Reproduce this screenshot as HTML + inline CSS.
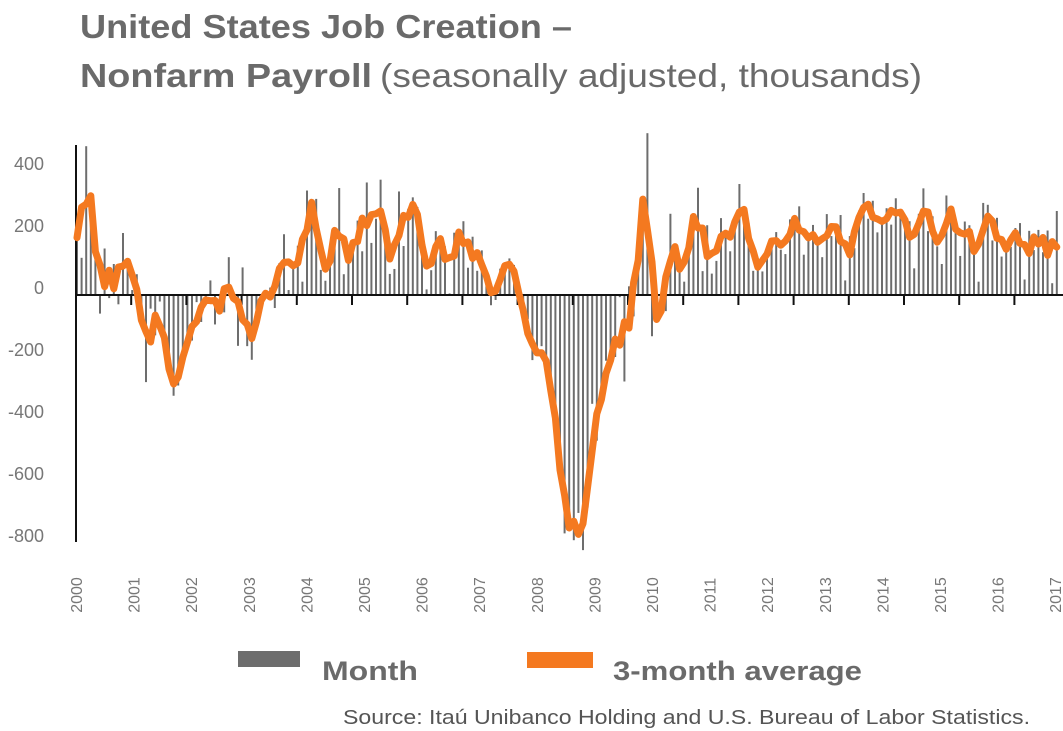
<!DOCTYPE html>
<html><head><meta charset="utf-8"><style>
html,body{margin:0;padding:0;background:#fff}
svg{display:block;font-family:"Liberation Sans",sans-serif}
</style></head><body>
<svg id="chart" width="1063" height="731" viewBox="0 0 1063 731" xmlns="http://www.w3.org/2000/svg">
<text x="80" y="38" font-size="33" font-weight="bold" fill="#6a6a6a" textLength="492" lengthAdjust="spacingAndGlyphs">United States Job Creation –</text>
<text x="80" y="87" font-size="33" fill="#6a6a6a"><tspan font-weight="bold" textLength="292" lengthAdjust="spacingAndGlyphs">Nonfarm Payroll</tspan><tspan x="380" textLength="542" lengthAdjust="spacingAndGlyphs">(seasonally adjusted, thousands)</tspan></text>
<g id="yaxis"></g>
<g id="bars"></g>
<g id="axes"></g>
<g id="line"></g>
<g id="xaxis"></g>
<g>
<rect x="238" y="651" width="62" height="16" fill="#6d6d6d"/>
<text x="322" y="680" font-size="27" font-weight="bold" fill="#6a6a6a" textLength="96" lengthAdjust="spacingAndGlyphs">Month</text>
<rect x="527" y="652" width="66" height="16" fill="#f47920"/>
<text x="613" y="680" font-size="27" font-weight="bold" fill="#6a6a6a" textLength="249" lengthAdjust="spacingAndGlyphs">3-month average</text>
</g>
<text x="343" y="724" font-size="20" fill="#555" textLength="687" lengthAdjust="spacingAndGlyphs">Source: Itaú Unibanco Holding and U.S. Bureau of Labor Statistics.</text>
</svg>
<script>
const years = [2000,2001,2002,2003,2004,2005,2006,2007,2008,2009,2010,2011,2012,2013,2014,2015,2016,2017];
const yTicks = [400,200,0,-200,-400,-600,-800];
const monthly = [
250,120,480,280,200,-60,150,-10,100,-30,200,110,
16,67,-30,-281,-44,-130,-21,-148,-244,-325,-292,-178,
-134,-147,-23,-87,-7,47,-95,-5,-56,122,10,-164,
89,-165,-209,-48,-5,-2,24,-42,103,196,16,108,
159,43,337,250,310,81,46,123,157,345,67,132,
136,240,141,363,168,246,372,196,68,84,334,158,
278,315,284,182,18,80,206,183,157,5,201,171,
238,88,188,78,144,71,-33,-16,85,82,118,97,
15,-86,-78,-210,-185,-165,-209,-266,-452,-473,-769,-695,
-791,-703,-823,-686,-351,-470,-329,-212,-219,-200,-7,-279,
28,-69,163,243,522,-133,-70,-34,-52,262,119,87,
43,189,225,346,77,225,69,110,248,209,141,209,
358,237,233,78,115,76,143,177,203,146,132,244,
211,286,130,197,226,162,122,261,190,212,258,47,
190,151,272,329,246,304,202,230,280,227,312,255,
234,238,86,262,344,206,254,157,100,321,272,239,
126,237,225,153,43,297,291,176,249,124,164,155,
216,232,50,207,145,210,138,208,38,271
];
const NS='http://www.w3.org/2000/svg';
const x0=76, perMonth=4.6;
function xs(i){return x0+1+i*perMonth;}
function ys(v){return 295-v*0.31;}
function mk(tag,attrs,parent){const e=document.createElementNS(NS,tag);for(const k in attrs)e.setAttribute(k,attrs[k]);parent.appendChild(e);return e;}
const yg=document.getElementById('yaxis');
yTicks.forEach(v=>{
  const t=mk('text',{x:44,y:ys(v)-1,'text-anchor':'end','font-size':18,fill:'#777'},yg);
  
  
  t.textContent=String(v);
});
const bg=document.getElementById('bars');
monthly.forEach((v,i)=>{
  const y=Math.min(ys(v),ys(0)), h=Math.abs(ys(v)-ys(0));
  const r=mk('rect',{x:xs(i)-1,y:y,width:2,height:h,fill:'#6d6d6d'},bg);
  
  
});
const ag=document.getElementById('axes');
const za=mk('line',{x1:x0,y1:ys(0),x2:1063,y2:ys(0),stroke:'#111','stroke-width':2},ag);


const va=mk('line',{x1:x0,y1:145,x2:x0,y2:542,stroke:'#111','stroke-width':2},ag);


years.forEach((yr,k)=>{
  const tx=x0+k*12*perMonth;
  const tk=mk('line',{x1:tx,y1:ys(0),x2:tx,y2:ys(0)+10,stroke:'#111','stroke-width':2},ag);
  
  
});
const avg=monthly.map((v,i)=>{const s=monthly.slice(Math.max(0,i-1),i+2);return s.reduce((a,b)=>a+b,0)/s.length;});
const lg=document.getElementById('line');
const pts=avg.map((v,i)=>xs(i).toFixed(1)+','+ys(v).toFixed(1)).join(' ');
const pl=mk('polyline',{points:pts,fill:'none',stroke:'#f47920','stroke-width':7,'stroke-linejoin':'round','stroke-linecap':'round'},lg);


const xg=document.getElementById('xaxis');
years.forEach((yr,k)=>{
  const cx=x0+6+k*57.6, cy=595;
  const t=mk('text',{x:cx,y:cy,'text-anchor':'middle','font-size':16,fill:'#777',transform:'rotate(-90 '+cx+' '+cy+')'},xg);
  
  
  t.textContent=String(yr);
});
</script>
</body></html>
